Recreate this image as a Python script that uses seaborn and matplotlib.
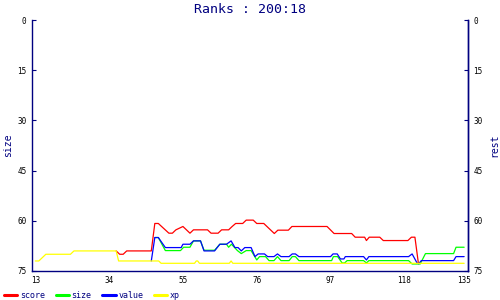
import matplotlib
matplotlib.use("Agg")
import matplotlib.pyplot as plt
import pandas as pd
import seaborn as sns

title = "Ranks : 200:18"
series_names = ["score", "size", "value", "xp"]
series_colors = ["#ff0000", "#00ff00", "#0000ff", "#ffff00"]
x_ticks = [13, 34, 55, 76, 97, 118, 135]
y_ticks = [0, 15, 30, 45, 60, 75]

score_x = [36, 37, 38, 39, 46, 47, 48, 51, 52, 53, 55, 57, 58, 62, 63, 65, 66, 68, 69, 70,
           72, 73, 75, 76, 78, 81, 82, 85, 86, 96, 98, 103, 104, 106.7, 107.2, 108, 111,
           112, 119, 120, 121, 122]
score_y = [69, 70, 70, 69, 69, 60.8, 60.8, 63.7, 63.7, 62.7, 61.7, 63.7, 62.7, 62.7, 63.7,
           63.7, 62.7, 62.7, 61.7, 60.8, 60.8, 59.8, 59.8, 60.8, 60.8, 63.8, 62.8, 62.8,
           61.7, 61.7, 63.8, 63.8, 64.9, 64.9, 65.9, 64.9, 64.9, 65.9, 65.9, 64.9, 64.9, 72.8]

size_x = [47, 48, 50, 54.3, 55.2, 57, 58, 60, 61, 64, 65.5, 67.4, 68, 68.8, 70.5, 71.6, 73,
          74.4, 76, 76.8, 78.5, 79.5, 80.9, 81.9, 82.9, 85.2, 86.1, 87, 88, 97.3, 97.8, 99,
          100.3, 101, 101.7, 106.4, 107.2, 107.9, 119.2, 120.2, 122.5, 124, 132, 132.7, 135]
size_y = [65, 65, 68.9, 68.9, 67.9, 67.9, 66, 66, 68.8, 68.8, 67, 67, 67.9, 67, 68.9, 69.8,
          68.9, 68.9, 71.7, 70.7, 70.7, 71.9, 71.9, 70.7, 71.9, 71.9, 70.7, 70.7, 71.9, 71.9,
          70.7, 70.7, 72.6, 72.6, 71.9, 71.9, 72.6, 71.9, 71.9, 72.9, 72.9, 69.8, 69.8, 67.9,
          67.9]

value_x = [46, 47, 48, 50, 54.5, 55, 57, 58, 60, 61, 64, 65.5, 67.4, 68.7, 69.8, 70.7, 71.6,
           72.6, 74.4, 75.5, 76.4, 78.2, 79.1, 80.9, 81.9, 82.9, 85.2, 86.1, 87, 88, 97,
           97.7, 98.9, 99.8, 100.8, 101.2, 106.4, 107.2, 107.9, 119.2, 120.2, 121.6, 122.1,
           122.8, 132, 132.7, 135]
value_y = [72, 65, 65, 68, 68, 67, 67, 66, 66, 69, 69, 67, 67, 66, 68, 68, 69, 68, 68, 70.7,
           69.9, 69.9, 70.7, 70.7, 69.9, 70.7, 70.7, 69.9, 69.9, 70.7, 70.7, 69.9, 69.9, 71.4,
           71.4, 70.7, 70.7, 71.7, 70.7, 70.7, 69.9, 72.6, 72.8, 71.9, 71.9, 70.7, 70.7]

xp_x = [13, 14, 16, 23, 24, 36, 36.7, 48.1, 48.8, 58.3, 58.8, 59.2, 59.7, 68.2, 68.7, 69.2, 135]
xp_y = [72, 72, 70, 70, 69, 69, 72, 72, 72.7, 72.7, 72, 72, 72.7, 72.7, 72, 72.7, 72.7]

frames = []
for name, xs, ys in [("score", score_x, score_y), ("size", size_x, size_y),
                     ("value", value_x, value_y), ("xp", xp_x, xp_y)]:
    frames.append(pd.DataFrame({"x": xs, "v": ys, "series": name}))
df = pd.concat(frames, ignore_index=True)

sns.set_theme(style="white")
plt.rcParams["font.family"] = ["DejaVu Sans Mono", "DejaVu Sans"]
navy = "#000080"

fig = plt.figure(figsize=(5, 3), dpi=100)
ax = fig.add_axes([32 / 500, 1 - 271 / 300, 436 / 500, 251 / 300])

sns.lineplot(data=df, x="x", y="v", hue="series", hue_order=series_names,
             palette=series_colors, estimator=None, sort=False, linewidth=0.9, ax=ax)

ax.set_xlim(12.06, 136.1)
ax.set_ylim(75, 0)
ax.set_xticks(x_ticks)
ax.set_yticks(y_ticks)
ax.set_xlabel("")
ax.set_ylabel("size", color=navy, fontsize=7)
ax.yaxis.set_label_coords(-0.044, 0.5)

for side in ["left", "right", "bottom"]:
    ax.spines[side].set_color(navy)
    ax.spines[side].set_linewidth(1.0)
ax.spines["top"].set_visible(False)
ax.tick_params(axis="both", direction="in", length=3, width=0.8, color=navy,
               labelcolor="black", labelsize=5.5)
ax.tick_params(axis="y", pad=4)
ax.tick_params(axis="x", pad=3.5)

ax2 = ax.twinx()
ax2.set_ylim(75, 0)
ax2.set_yticks(y_ticks)
ax2.spines["right"].set_color(navy)
ax2.spines["right"].set_linewidth(1.0)
ax2.spines["top"].set_visible(False)
ax2.spines["left"].set_visible(False)
ax2.spines["bottom"].set_visible(False)
ax2.tick_params(axis="y", direction="in", length=3, width=0.8, color=navy,
                labelcolor="black", labelsize=5.5, pad=4)
ax2.set_ylabel("rest", color=navy, fontsize=7)
ax2.yaxis.set_label_coords(1.048, 0.5)

ax.set_title(title, color=navy, fontsize=9.5, pad=5)

handles, labels = ax.get_legend_handles_labels()
ax.get_legend().remove()
leg = fig.legend(handles, labels, ncol=4, loc="center left",
                 bbox_to_anchor=(4 / 500, 1 - 295.5 / 300), frameon=False,
                 fontsize=6, handlelength=1.6, handletextpad=0.3, columnspacing=1.3,
                 borderpad=0, borderaxespad=0)
for h in leg.legend_handles:
    h.set_linewidth(2.2)
for t in leg.get_texts():
    t.set_color(navy)

fig.savefig("out.png", dpi=100)
